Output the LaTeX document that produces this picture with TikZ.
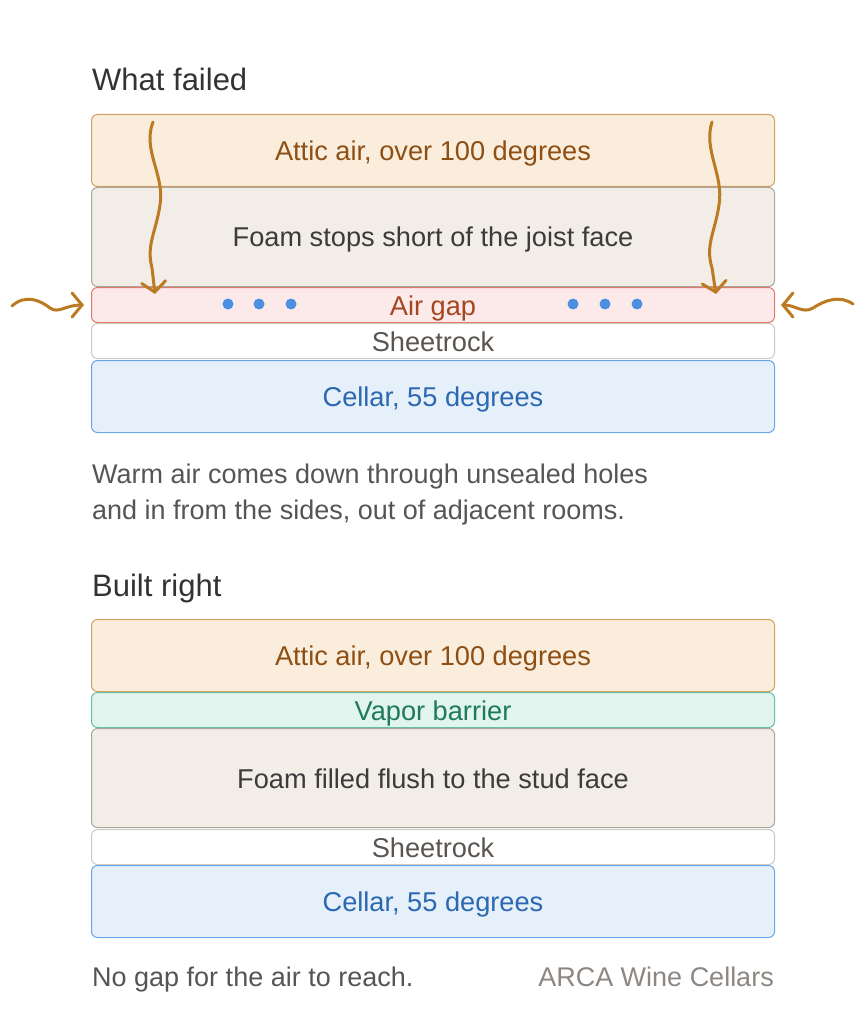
\documentclass[tikz,border=0pt]{standalone}
\usepackage{fontspec}
\setmainfont{Liberation Sans}
\usetikzlibrary{arrows.meta}

\definecolor{atticfill}{HTML}{FBEDDC}
\definecolor{atticdraw}{HTML}{D2A062}
\definecolor{attictext}{HTML}{8E4F14}
\definecolor{foamfill}{HTML}{F2EEE7}
\definecolor{foamdraw}{HTML}{A9A6A1}
\definecolor{foamtext}{HTML}{3B3B3B}
\definecolor{gapfill}{HTML}{FCEAEA}
\definecolor{gapdraw}{HTML}{E07A6A}
\definecolor{gaptext}{HTML}{A4461E}
\definecolor{rockdraw}{HTML}{CFCAC4}
\definecolor{rocktext}{HTML}{5A5550}
\definecolor{cellarfill}{HTML}{E6F0FB}
\definecolor{cellardraw}{HTML}{6AA6E6}
\definecolor{cellartext}{HTML}{2B68B0}
\definecolor{vaporfill}{HTML}{E1F4ED}
\definecolor{vapordraw}{HTML}{66BFA0}
\definecolor{vaportext}{HTML}{1E7A5E}
\definecolor{flowcol}{HTML}{BC7A22}
\definecolor{dotcol}{HTML}{4A90E2}
\definecolor{captext}{HTML}{555555}
\definecolor{brandtext}{HTML}{8C8782}
\definecolor{titletext}{HTML}{333333}

\begin{document}
\begin{tikzpicture}[x=1pt,y=-1pt,
    layer/.style={draw,line width=1pt,rounded corners=6pt,anchor=north west,
        minimum width=683pt,inner sep=0pt,text height=20pt,text depth=0pt,
        font=\fontsize{27.2}{30}\selectfont},
    attic/.style={layer,fill=atticfill,draw=atticdraw,text=attictext,minimum height=72pt},
    foam/.style={layer,fill=foamfill,draw=foamdraw,text=foamtext,minimum height=99pt},
    airgap/.style={layer,fill=gapfill,draw=gapdraw,text=gaptext,minimum height=35pt},
    rock/.style={layer,fill=white,draw=rockdraw,text=rocktext,minimum height=35pt},
    cellar/.style={layer,fill=cellarfill,draw=cellardraw,text=cellartext,minimum height=72pt},
    vapor/.style={layer,fill=vaporfill,draw=vapordraw,text=vaportext,minimum height=35pt},
    heading/.style={anchor=base west,inner sep=0pt,text=titletext,font=\fontsize{31}{36}\selectfont},
    caption/.style={anchor=base west,inner sep=0pt,text=captext,font=\fontsize{27}{32}\selectfont},
    flow/.style={draw=flowcol,line width=3pt,line cap=round,
        -{Straight Barb[length=10pt,width=24pt,line cap=round]}},
    airdot/.style={circle,fill=dotcol,inner sep=0pt,minimum size=11pt}]
    \useasboundingbox (0,0) rectangle (865,1024);
    %What failed
        \node[heading] (title1) at (92,91) {What failed};
        \node[attic] (attic1) at (91,114) {Attic air, over 100 degrees};
        \node[foam] (foam1) at (91,187) {Foam stops short of the joist face};
        \node[airgap] (gap1) at (91,287) {Air gap};
        \node[rock] (rock1) at (91,323) {Sheetrock};
        \node[cellar] (cellar1) at (91,360) {Cellar, 55 degrees};
    %Luftlommer
        \foreach \x [count=\i] in {228,259,291,573,605,637}
            \node[airdot] (dot\i) at (\x,304) {};
    %Varm luft
        \coordinate (inL) at (153,122);
        \coordinate (outL) at (155,294);
        \coordinate (inR) at (712,122);
        \coordinate (outR) at (716,294);
        \coordinate (sideL) at (12,306);
        \coordinate (endL) at (84,305);
        \coordinate (sideR) at (853,304);
        \coordinate (endR) at (781,305);
        \draw[flow] (inL) .. controls (142,150) and (165,175) .. (160,205)
            .. controls (156,232) and (146,245) .. (152,268) -- (outL);
        \draw[flow] (inR) .. controls (703,150) and (724,175) .. (719,205)
            .. controls (715,232) and (705,245) .. (712,268) -- (outR);
        \draw[flow] (sideL) .. controls (25,294) and (40,300) .. (50,308)
            .. controls (58,314) and (66,305) .. (endL);
        \draw[flow] (sideR) .. controls (840,295) and (825,300) .. (813,308)
            .. controls (803,314) and (795,305) .. (endR);
        \node[caption] (note1a) at (92,483) {Warm air comes down through unsealed holes};
        \node[caption] (note1b) at (92,519) {and in from the sides, out of adjacent rooms.};
    %Built right
        \node[heading] (title2) at (92,596) {Built right};
        \node[attic] (attic2) at (91,619) {Attic air, over 100 degrees};
        \node[vapor] (vapor2) at (91,692) {Vapor barrier};
        \node[foam] (foam2) at (91,728) {Foam filled flush to the stud face};
        \node[rock] (rock2) at (91,829) {Sheetrock};
        \node[cellar] (cellar2) at (91,865) {Cellar, 55 degrees};
        \node[caption] (note2) at (92,986) {No gap for the air to reach.};
        \node[caption,anchor=base east,text=brandtext] (brand) at (774,986) {ARCA Wine Cellars};
\end{tikzpicture}
\end{document}
